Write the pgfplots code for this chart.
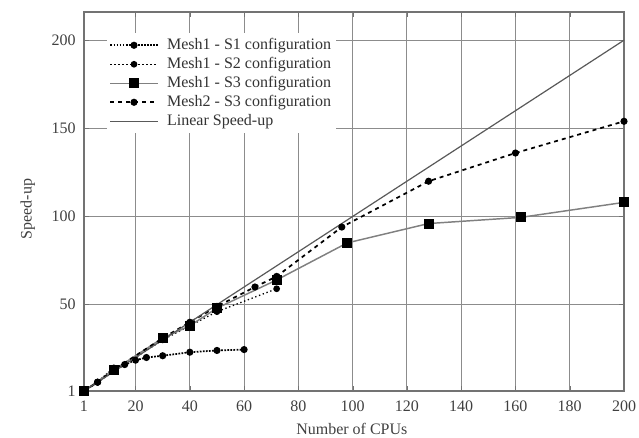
\documentclass[border=0pt]{standalone}
\usepackage{fontspec}
\setmainfont{Liberation Serif}
\usepackage{pgfplots}
\pgfplotsset{compat=1.18}
\begin{document}
\fontsize{12}{14.4}\selectfont
\begin{tikzpicture}
\begin{axis}[
  at={(0,0)}, anchor=south west,
  scale only axis,
  width=405pt, height=284.25pt,
  xmin=1, xmax=200, ymin=1, ymax=216,
  xtick={1,20,40,60,80,100,120,140,160,180,200},
  ytick={1,50,100,150,200},
  /pgf/number format/assume math mode=true,
  tick label style={font=\fontsize{12}{14.4}\selectfont, text=black!75},
  xticklabel style={yshift=-3.5pt},
  yticklabel style={xshift=-2pt},
  label style={font=\fontsize{12}{14.4}\selectfont, text=black!75},
  xlabel={Number of CPUs},
  ylabel={Speed-up},
  every axis x label/.append style={at={(axis description cs:0.496,-0.1)}, anchor=center},
  every axis y label/.append style={at={(axis description cs:-0.104,0.48)}, anchor=center},
  grid=major,
  major grid style={black!45, line width=0.8pt},
  axis line style={black!55, line width=0.9pt},
  tick style={black!55},
  tick align=inside,
  major tick length=4pt,
  legend style={at={(0.042,0.945)}, anchor=north west, draw=none, fill=white,
    font=\fontsize{12}{14.4}\selectfont, text=black!80, row sep=0pt,
    inner sep=2pt},
  legend cell align=left,
  legend image code/.code={
    \draw[mark repeat=2,mark phase=2] plot coordinates {(0cm,0cm) (0.62cm,0cm) (1.24cm,0cm)};
    \path (1.4cm,0cm);
  },
]
\addplot[black, line width=1.3pt, densely dotted, mark=*, mark size=2pt, mark options={solid}]
 coordinates {(1,1)(6,6)(12,14)(16,16)(20,18.5)(24,20)(30,21)(40,23)(50,24)(60,24.5)};
\addlegendentry{Mesh1 - S1 configuration}
\addplot[black, line width=1pt, dotted, mark=*, mark size=2pt, mark options={solid}]
 coordinates {(1,1)(6,6)(12,12)(30,30)(40,38)(50,46)(72,59)};
\addlegendentry{Mesh1 - S2 configuration}
\addplot[black!50, line width=1.1pt, mark=square*, mark size=3.2pt, mark options={solid, black}]
 coordinates {(1,1)(12,13)(30,31)(40,38)(50,48)(72,64)(98,85)(128,96)(162,99.5)(200,108)};
\addlegendentry{Mesh1 - S3 configuration}
\addplot[black, line width=1.3pt, dashed, mark=*, mark size=2pt, mark options={solid}]
 coordinates {(1,1)(6,6)(12,13)(30,31)(40,40)(50,49)(64,60)(72,66)(96,94)(128,120)(160,136)(200,154)};
\addlegendentry{Mesh2 - S3 configuration}
\addplot[black!65, line width=0.9pt, no marks]
 coordinates {(1,1)(200,200)};
\addlegendentry{Linear Speed-up}
\end{axis}
\pgfresetboundingbox
\path[use as bounding box] (-63pt,-35.25pt) rectangle (416.25pt,293.25pt);
\end{tikzpicture}
\end{document}
